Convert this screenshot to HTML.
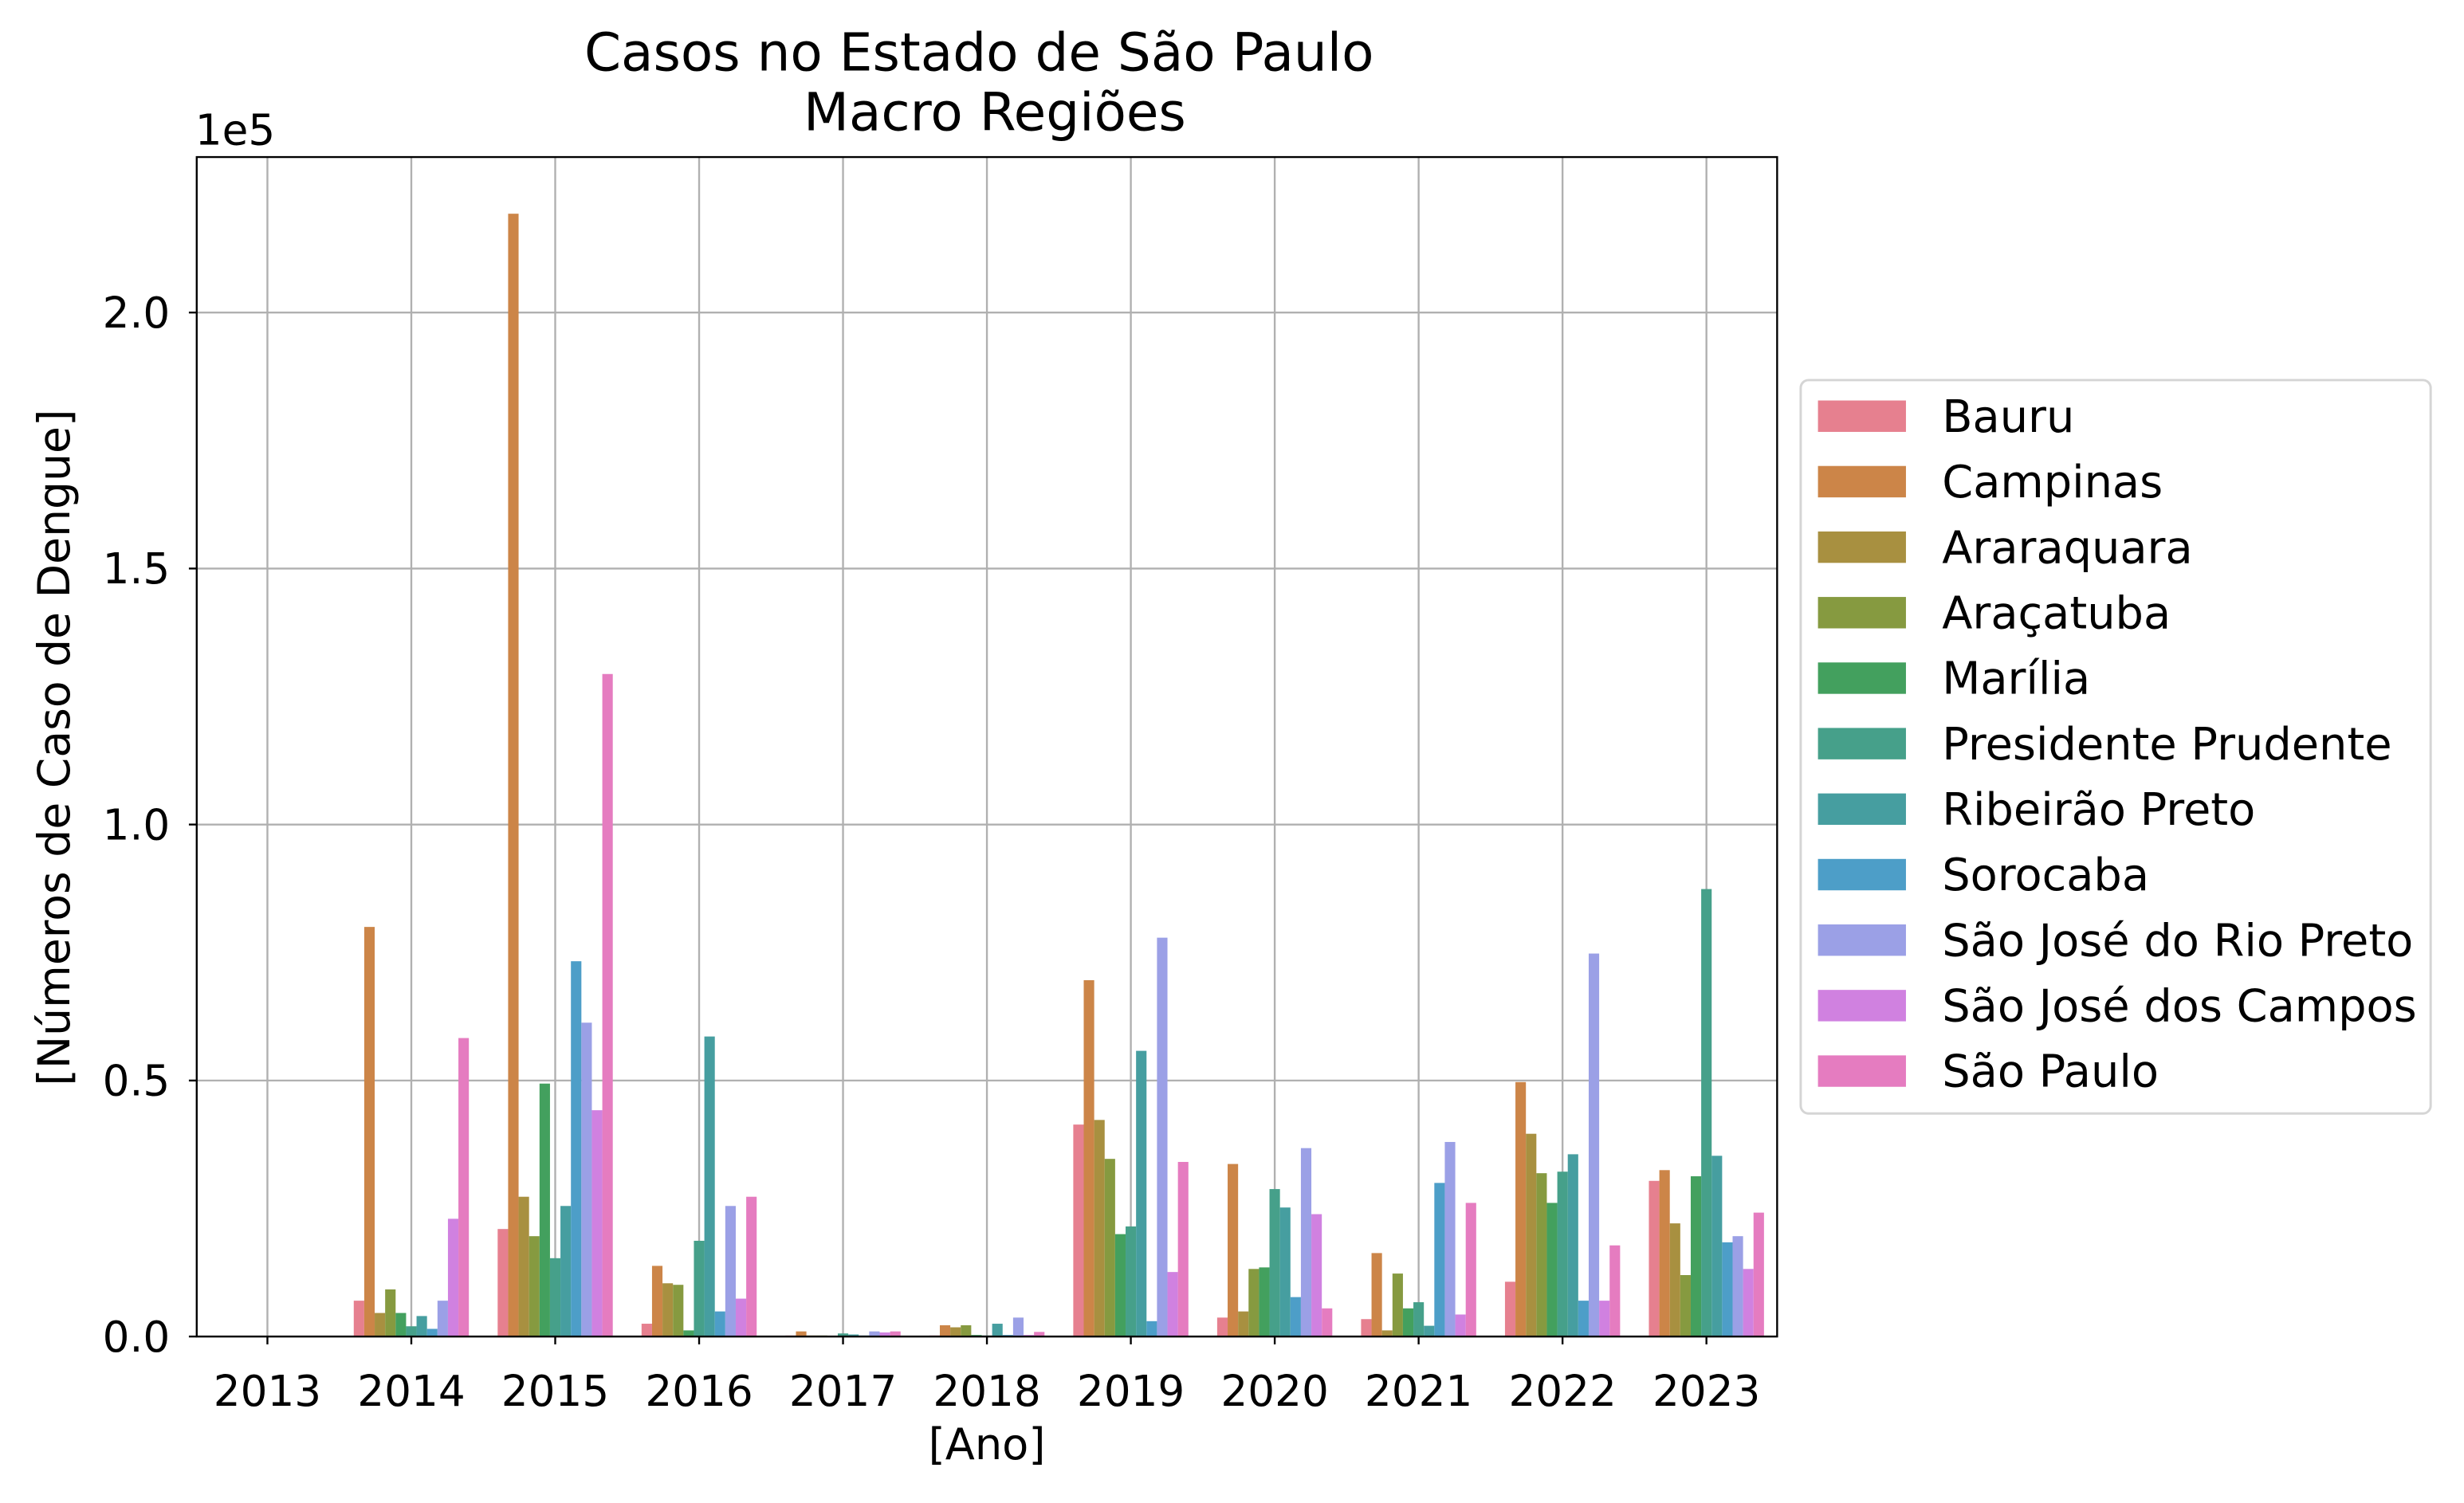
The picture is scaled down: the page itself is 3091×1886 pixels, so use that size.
<!DOCTYPE html>
<html><head><meta charset="utf-8"><style>
html,body{margin:0;padding:0;background:#fff}
svg{display:block}
text{font-family:"DejaVu Sans","Liberation Sans",sans-serif;fill:#000}
</style></head><body>
<svg id="chart" width="3091" height="1886" viewBox="0 0 1568 957" xmlns="http://www.w3.org/2000/svg">
<rect width="1568" height="957" fill="#fff"/>
<text x="623" y="45" font-size="33.5" text-anchor="middle">Casos no Estado de São Paulo</text>
<text x="633" y="83" font-size="33.5" text-anchor="middle">Macro Regiões</text>
<text x="124" y="92" font-size="27">1e5</text>
<g id="grid"></g>
<g id="bars"></g>
<rect x="125" y="100" width="1006" height="751" fill="none" stroke="#000" stroke-width="1.2"/>
<g id="ticks"></g>
<text x="628" y="929" font-size="27.5" text-anchor="middle">[Ano]</text>
<text transform="translate(44,476) rotate(-90)" font-size="28" text-anchor="middle">[Números de Caso de Dengue]</text>
<g id="legend"></g>
</svg>
<script>
const years = ["2013","2014","2015","2016","2017","2018","2019","2020","2021","2022","2023"];
const regions = ["Bauru","Campinas","Araraquara","Araçatuba","Marília","Presidente Prudente","Ribeirão Preto","Sorocaba","São José do Rio Preto","São José dos Campos","São Paulo"];
const colors = ["#e6808f","#cc8548","#a89040","#869a40","#43a05e","#46a08a","#469ea0","#4d9ec8","#9ba0e6","#d081e0","#e57cc0"];
// values in units of 1e5 cases, one array per year (order = regions)
const v2013 = [0,0,0,0,0,0,0,0,0,0,0];
const v2014 = [0.07,0.80,0.046,0.092,0.046,0.02,0.04,0.015,0.07,0.23,0.583];
const v2015 = [0.21,2.193,0.273,0.196,0.494,0.153,0.255,0.733,0.613,0.442,1.294];
const v2016 = [0.025,0.138,0.104,0.101,0.012,0.187,0.586,0.049,0.255,0.074,0.273];
const v2017 = [0.002,0.01,0.002,0.002,0.001,0.006,0.004,0.002,0.01,0.008,0.01];
const v2018 = [0.002,0.022,0.018,0.022,0.003,0.002,0.025,0.003,0.037,0.003,0.009];
const v2019 = [0.414,0.696,0.423,0.347,0.2,0.215,0.558,0.03,0.779,0.126,0.341];
const v2020 = [0.037,0.337,0.049,0.132,0.135,0.288,0.252,0.077,0.368,0.239,0.055];
const v2021 = [0.034,0.163,0.012,0.123,0.055,0.067,0.021,0.3,0.38,0.043,0.261];
const v2022 = [0.107,0.497,0.396,0.319,0.261,0.322,0.356,0.07,0.748,0.07,0.178];
const v2023 = [0.304,0.325,0.221,0.12,0.313,0.874,0.353,0.184,0.196,0.132,0.242];
const values = [v2013,v2014,v2015,v2016,v2017,v2018,v2019,v2020,v2021,v2022,v2023];
const yTicks = [0,0.5,1.0,1.5,2.0];
const yTickLabels = ["0.0","0.5","1.0","1.5","2.0"];

const NS="http://www.w3.org/2000/svg";
const L=125,R=1131,T=100,B=851, yMax=(B-T)/326;
const xC=i=>170+i*(1086-170)/10;
const yS=v=>B-v/yMax*(B-T);
const groupW=0.8*(1086-170)/10, bw=groupW/regions.length;
function mk(tag,attrs,parent){const e=document.createElementNS(NS,tag);for(const k in attrs)e.setAttribute(k,attrs[k]);parent.appendChild(e);return e;}
const grid=document.getElementById('grid'),bars=document.getElementById('bars'),ticks=document.getElementById('ticks'),legend=document.getElementById('legend');
years.forEach((y,i)=>{
  const g=mk('line',{x1:xC(i),x2:xC(i),y1:T,y2:B,stroke:'#b0b0b0','stroke-width':1.2},grid);
  
  
  const t=mk('line',{x1:xC(i),x2:xC(i),y1:B,y2:B+5,stroke:'#000','stroke-width':1.2},ticks);
  
  
  const tx=mk('text',{x:xC(i),y:B+44,'font-size':27,'text-anchor':'middle'},ticks);
  tx.textContent=y;
  
  
});
yTicks.forEach((v,i)=>{
  const g=mk('line',{x1:L,x2:R,y1:yS(v),y2:yS(v),stroke:'#b0b0b0','stroke-width':1.2},grid);
  
  
  const t=mk('line',{x1:L-5,x2:L,y1:yS(v),y2:yS(v),stroke:'#000','stroke-width':1.2},ticks);
  
  
  const tx=mk('text',{x:L-17,y:yS(v)+9.5,'font-size':27,'text-anchor':'end'},ticks);
  tx.textContent=yTickLabels[i];
  
  
});
values.forEach((arr,i)=>{
  arr.forEach((v,j)=>{
    const x=xC(i)-groupW/2+j*bw;
    const r=mk('rect',{x:x,y:yS(v),width:bw,height:B-yS(v),fill:colors[j]},bars);
    
    
  });
});
const lb=mk('rect',{x:1146,y:242,width:401,height:467,rx:5,fill:'#fff',stroke:'#d5d5d5','stroke-width':1.5},legend);


regions.forEach((r,j)=>{
  const cy=265+j*41.7;
  const p=mk('rect',{x:1157,y:cy-10,width:56,height:20,fill:colors[j]},legend);
  
  
  const t=mk('text',{x:1236,y:cy+10,'font-size':28.3},legend);
  t.textContent=r;
  
  
});
</script>
</body></html>
